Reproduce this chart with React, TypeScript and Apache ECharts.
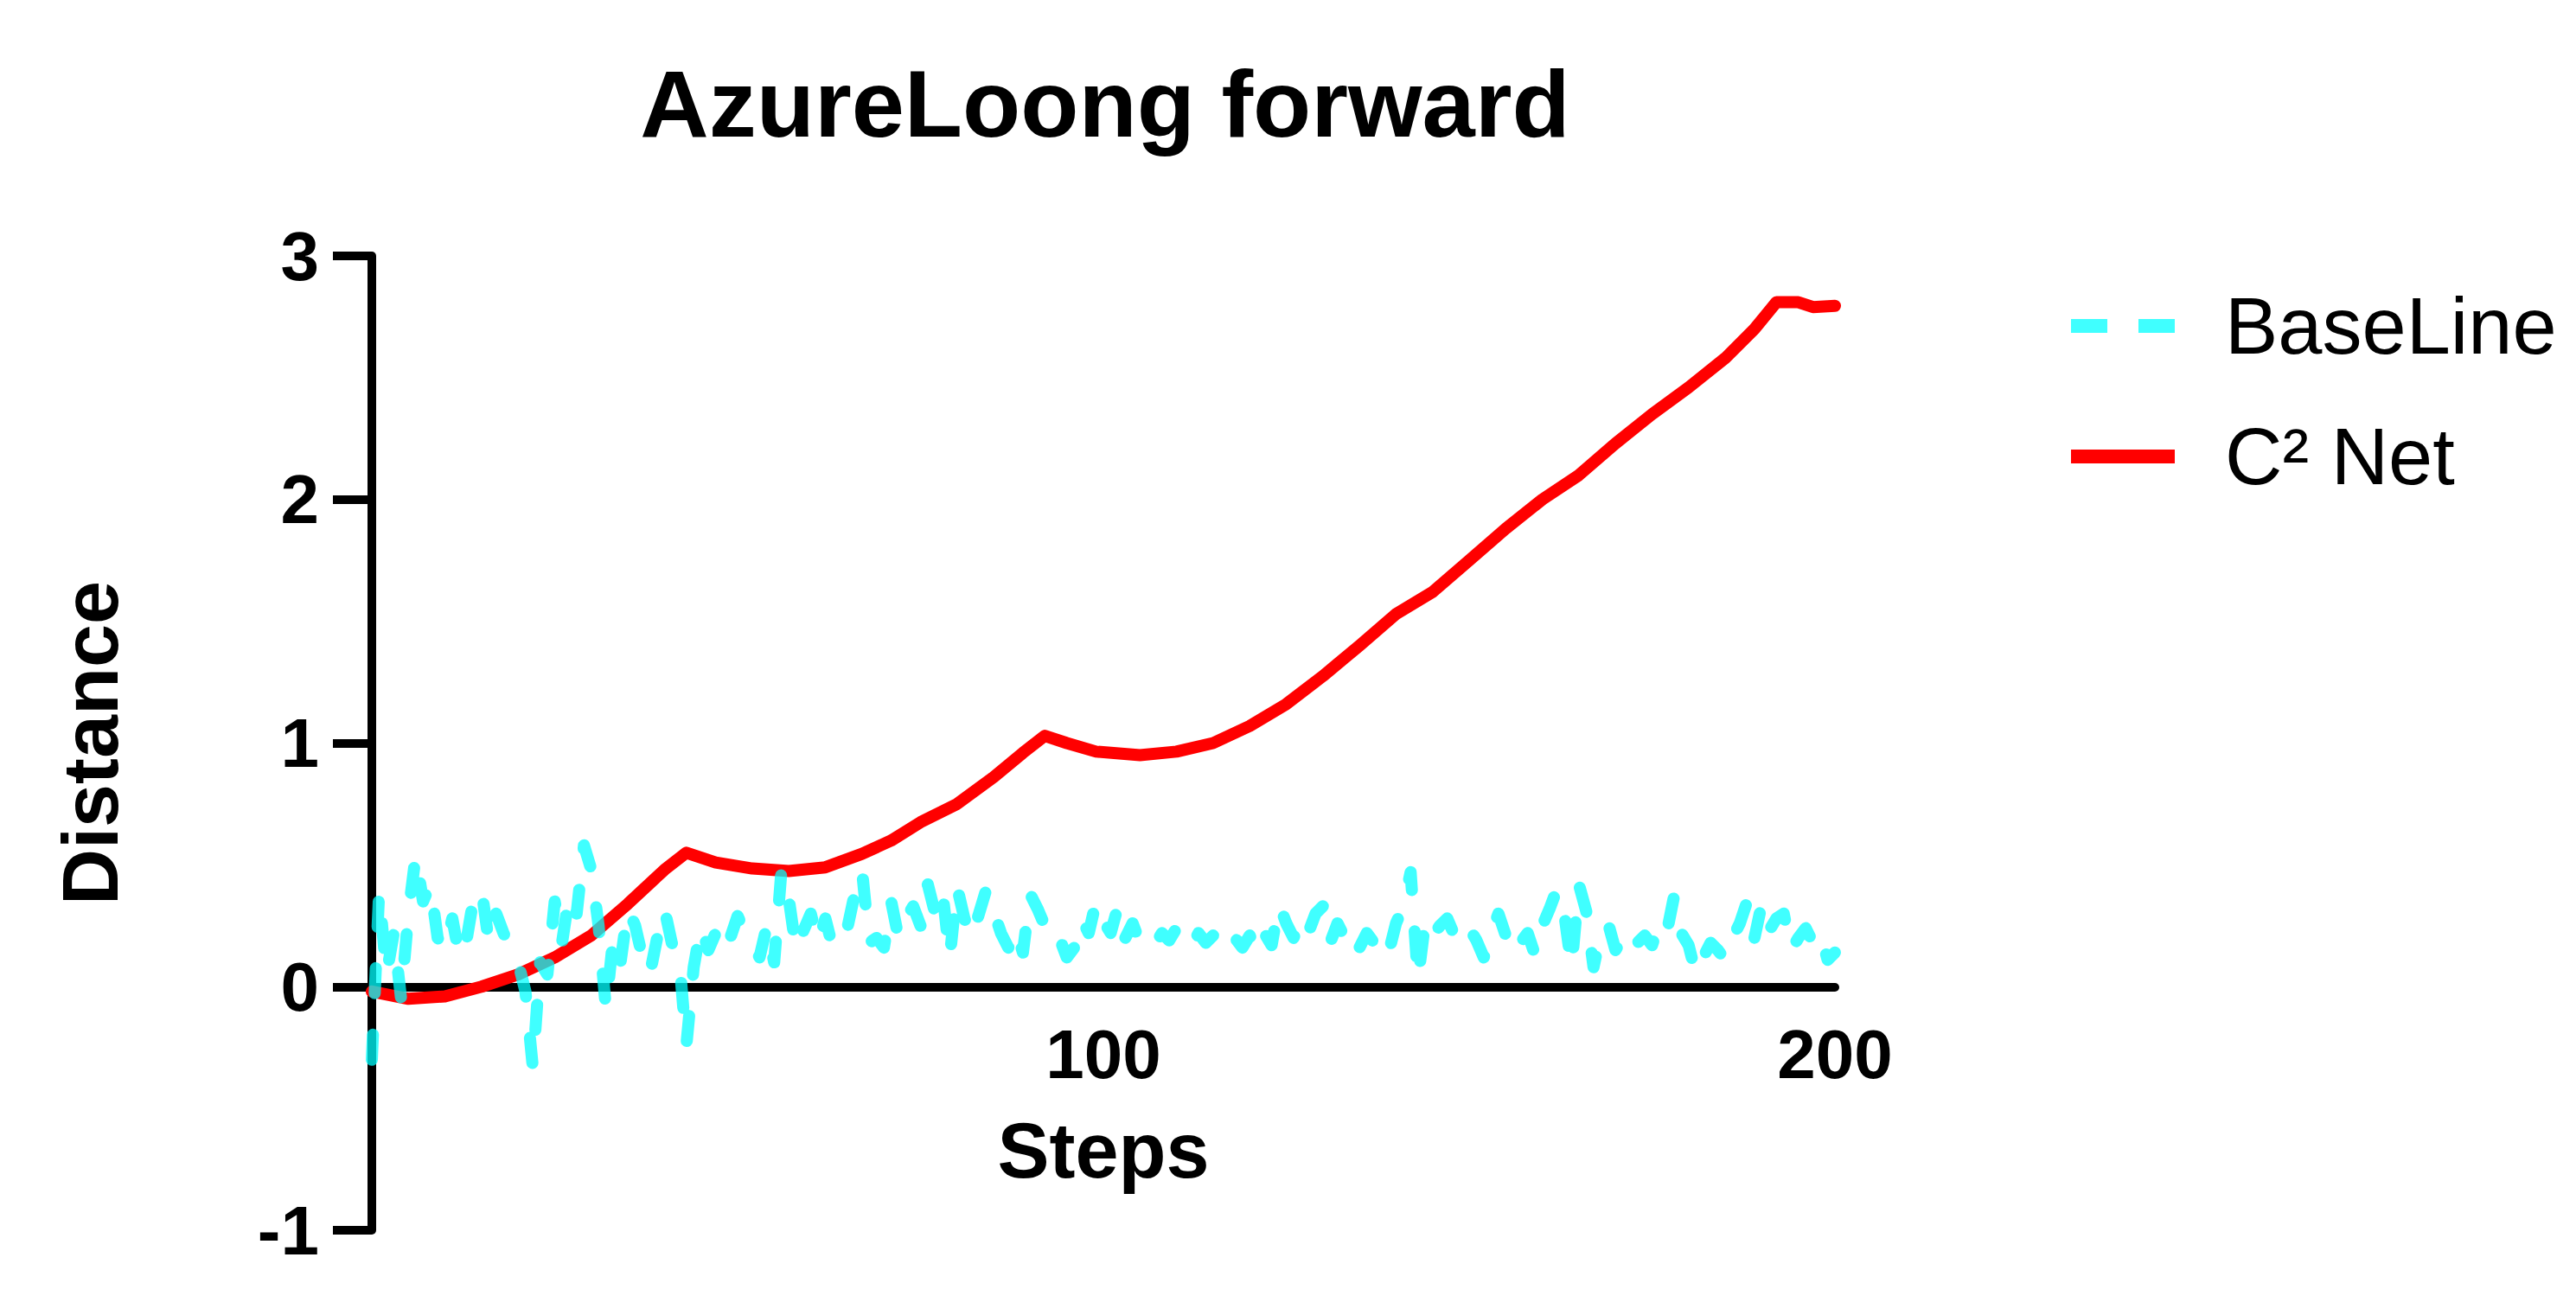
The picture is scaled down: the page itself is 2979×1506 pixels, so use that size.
import React, { useEffect, useRef } from "react";
import * as echarts from "echarts";

const TITLE = "AzureLoong forward";
const X_NAME = "Steps";
const Y_NAME = "Distance";
const BASE_NAME = "BaseLine";
const C2_NAME = "C² Net";

const X_MIN = 0;
const X_MAX = 200;
const X_INTERVAL = 100;
const Y_MIN = -1;
const Y_MAX = 3;
const Y_INTERVAL = 1;

// BaseLine: one value per step, steps 0..200
const baselineValues = [
  -0.3, 0.39, 0.05, 0.22, -0.05, 0.3, 0.54, 0.35, 0.42, 0.2,
  0.15, 0.28, 0.12, 0.2, 0.38, 0.4, 0.18, 0.3, 0.22, 0.15,
  0.1, -0.02, -0.33, 0.1, 0.05, 0.35, 0.18, 0.38, 0.3, 0.58,
  0.48, 0.25, -0.09, 0.2, 0.1, 0.32, 0.25, 0.12, 0.05, 0.2,
  0.32, 0.18, 0.12, -0.24, 0.08, 0.25, 0.15, 0.22, 0.28, 0.2,
  0.29, 0.22, 0.18, 0.12, 0.25, 0.1, 0.48, 0.36, 0.15, 0.23,
  0.3, 0.18, 0.28, 0.16, 0.22, 0.24, 0.38, 0.48, 0.18, 0.2,
  0.16, 0.35, 0.2, 0.28, 0.33, 0.25, 0.42, 0.3, 0.39, 0.12,
  0.41, 0.28, 0.2, 0.3, 0.4, 0.31, 0.22, 0.16, 0.24, 0.14,
  0.38, 0.32, 0.25, 0.18, 0.2, 0.12, 0.16, 0.28, 0.22, 0.35,
  0.27, 0.22, 0.33, 0.2, 0.26, 0.18, 0.2, 0.17, 0.22, 0.19,
  0.24, 0.2, 0.16, 0.22, 0.18, 0.21, 0.18, 0.24, 0.2, 0.16,
  0.21, 0.14, 0.22, 0.17, 0.34, 0.26, 0.2, 0.28, 0.22, 0.3,
  0.33, 0.18, 0.26, 0.2, 0.24, 0.16, 0.22, 0.18, 0.21, 0.14,
  0.26, 0.33, 0.47, 0.03, 0.27, 0.21, 0.25, 0.28, 0.21, 0.18,
  0.24, 0.19, 0.12, 0.22, 0.3, 0.21, 0.26, 0.18, 0.22, 0.13,
  0.25, 0.32, 0.4, 0.3, 0.08, 0.42, 0.31, 0.08, 0.22, 0.26,
  0.15, 0.2, 0.24, 0.18, 0.21, 0.17, 0.26, 0.22, 0.37, 0.22,
  0.17, 0.05, 0.12, 0.18, 0.15, 0.11, 0.2, 0.26, 0.35, 0.2,
  0.34, 0.23, 0.28, 0.3, 0.15, 0.2, 0.24, 0.18, 0.22, 0.11,
  0.14,
];

// C² Net: sampled steps and values
const c2Steps = [
  0, 5, 10, 15, 20, 25, 30, 35, 40, 43, 47, 52, 57, 62, 67, 71, 75, 80, 85, 89,
  92, 95, 99, 105, 110, 115, 120, 125, 130, 135, 140, 145, 150, 155, 160, 165,
  170, 175, 180, 185, 189, 192, 195, 197, 200,
];
const c2Values = [
  -0.02, -0.05, -0.04, 0.0, 0.05, 0.12, 0.21, 0.34, 0.48, 0.55, 0.51, 0.485,
  0.475, 0.49, 0.545, 0.6, 0.675, 0.75, 0.86, 0.96, 1.03, 1.0, 0.965, 0.95,
  0.965, 1.0, 1.07, 1.16, 1.275, 1.4, 1.53, 1.62, 1.75, 1.88, 2.0, 2.1, 2.23,
  2.35, 2.46, 2.58, 2.7, 2.81, 2.81, 2.79, 2.795,
];

const FONT = "'Liberation Sans', Arial, Helvetica, sans-serif";

const GRID_TOP = 296;
const GRID_BOTTOM = 83;
const CHART_H = 1506;

export default function App() {
  const ref = useRef<HTMLDivElement>(null);

  useEffect(() => {
    if (!ref.current) return;
    const chart = echarts.init(ref.current, null, { renderer: "svg" });

    // pixel distance from bottom of grid to the y = 0 line, so the x axis sits on zero
    const gridH = CHART_H - GRID_TOP - GRID_BOTTOM;
    const zeroOffset = -(gridH * (0 - Y_MIN)) / (Y_MAX - Y_MIN);

    const option: any = {
      animation: false,
      backgroundColor: "#ffffff",
      textStyle: { fontFamily: FONT },
      graphic: [
        {
          type: "text",
          x: 1278,
          y: 64,
          style: {
            text: TITLE,
            fontSize: 110,
            fontWeight: "bold",
            fontFamily: FONT,
            fill: "#000",
            align: "center",
            verticalAlign: "top",
          },
        },
      ],
      grid: {
        left: 430,
        right: 857,
        top: GRID_TOP,
        bottom: GRID_BOTTOM,
        containLabel: false,
        outerBoundsMode: "none",
      },
      legend: {
        orient: "vertical",
        left: 2382,
        top: 322,
        itemWidth: 120,
        itemHeight: 20,
        itemGap: 51,
        data: [
          {
            name: BASE_NAME,
            itemStyle: { opacity: 0 },
            lineStyle: { width: 16, type: [42, 36], cap: "butt", color: "#40ffff", opacity: 1 },
          },
          {
            name: C2_NAME,
            itemStyle: { opacity: 0 },
            lineStyle: { width: 16, type: "solid", cap: "butt", color: "#ff0000" },
          },
        ],
        textStyle: {
          fontSize: 92,
          fontFamily: FONT,
          color: "#000",
          lineHeight: 100,
          padding: [0, 0, 0, 53],
        },
      },
      xAxis: {
        type: "value",
        min: X_MIN,
        max: X_MAX,
        interval: X_INTERVAL,
        offset: zeroOffset,
        name: X_NAME,
        nameLocation: "middle",
        nameGap: 145,
        nameTextStyle: { fontSize: 90, fontWeight: "bold", color: "#000", fontFamily: FONT },
        axisLine: { onZero: false, lineStyle: { color: "#000", width: 10 } },
        axisTick: { show: false },
        axisLabel: {
          showMinLabel: false,
          fontSize: 80,
          fontWeight: "bold",
          color: "#000",
          margin: 38,
          fontFamily: FONT,
        },
        splitLine: { show: false },
      },
      yAxis: {
        type: "value",
        min: Y_MIN,
        max: Y_MAX,
        interval: Y_INTERVAL,
        name: Y_NAME,
        nameLocation: "middle",
        nameGap: 280,
        nameTextStyle: { fontSize: 90, fontWeight: "bold", color: "#000", fontFamily: FONT },
        axisLine: { show: true, onZero: false, lineStyle: { color: "#000", width: 10 } },
        axisTick: { show: true, inside: false, length: 45, lineStyle: { color: "#000", width: 10 } },
        axisLabel: {
          fontSize: 80,
          fontWeight: "bold",
          color: "#000",
          margin: 61,
          fontFamily: FONT,
        },
        splitLine: { show: false },
      },
      series: [
        {
          name: C2_NAME,
          type: "line",
          data: c2Steps.map((s, i) => [s, c2Values[i]]),
          symbol: "none",
          showSymbol: false,
          itemStyle: { color: "#ff0000" },
          lineStyle: { color: "#ff0000", width: 14, cap: "round", join: "round" },
          z: 2,
        },
        {
          name: BASE_NAME,
          type: "line",
          data: baselineValues.map((v, i) => [i, v]),
          symbol: "none",
          showSymbol: false,
          itemStyle: { color: "#40ffff" },
          lineStyle: {
            color: "rgba(0,255,255,0.75)",
            width: 14,
            type: [29, 48],
            cap: "round",
            join: "round",
          },
          z: 3,
        },
      ],
    };

    chart.setOption(option);
    return () => chart.dispose();
  }, []);

  return (
    <div
      ref={ref}
      style={{ position: "fixed", left: 0, top: 0, width: 2979, height: 1506, background: "#fff" }}
    />
  );
}
